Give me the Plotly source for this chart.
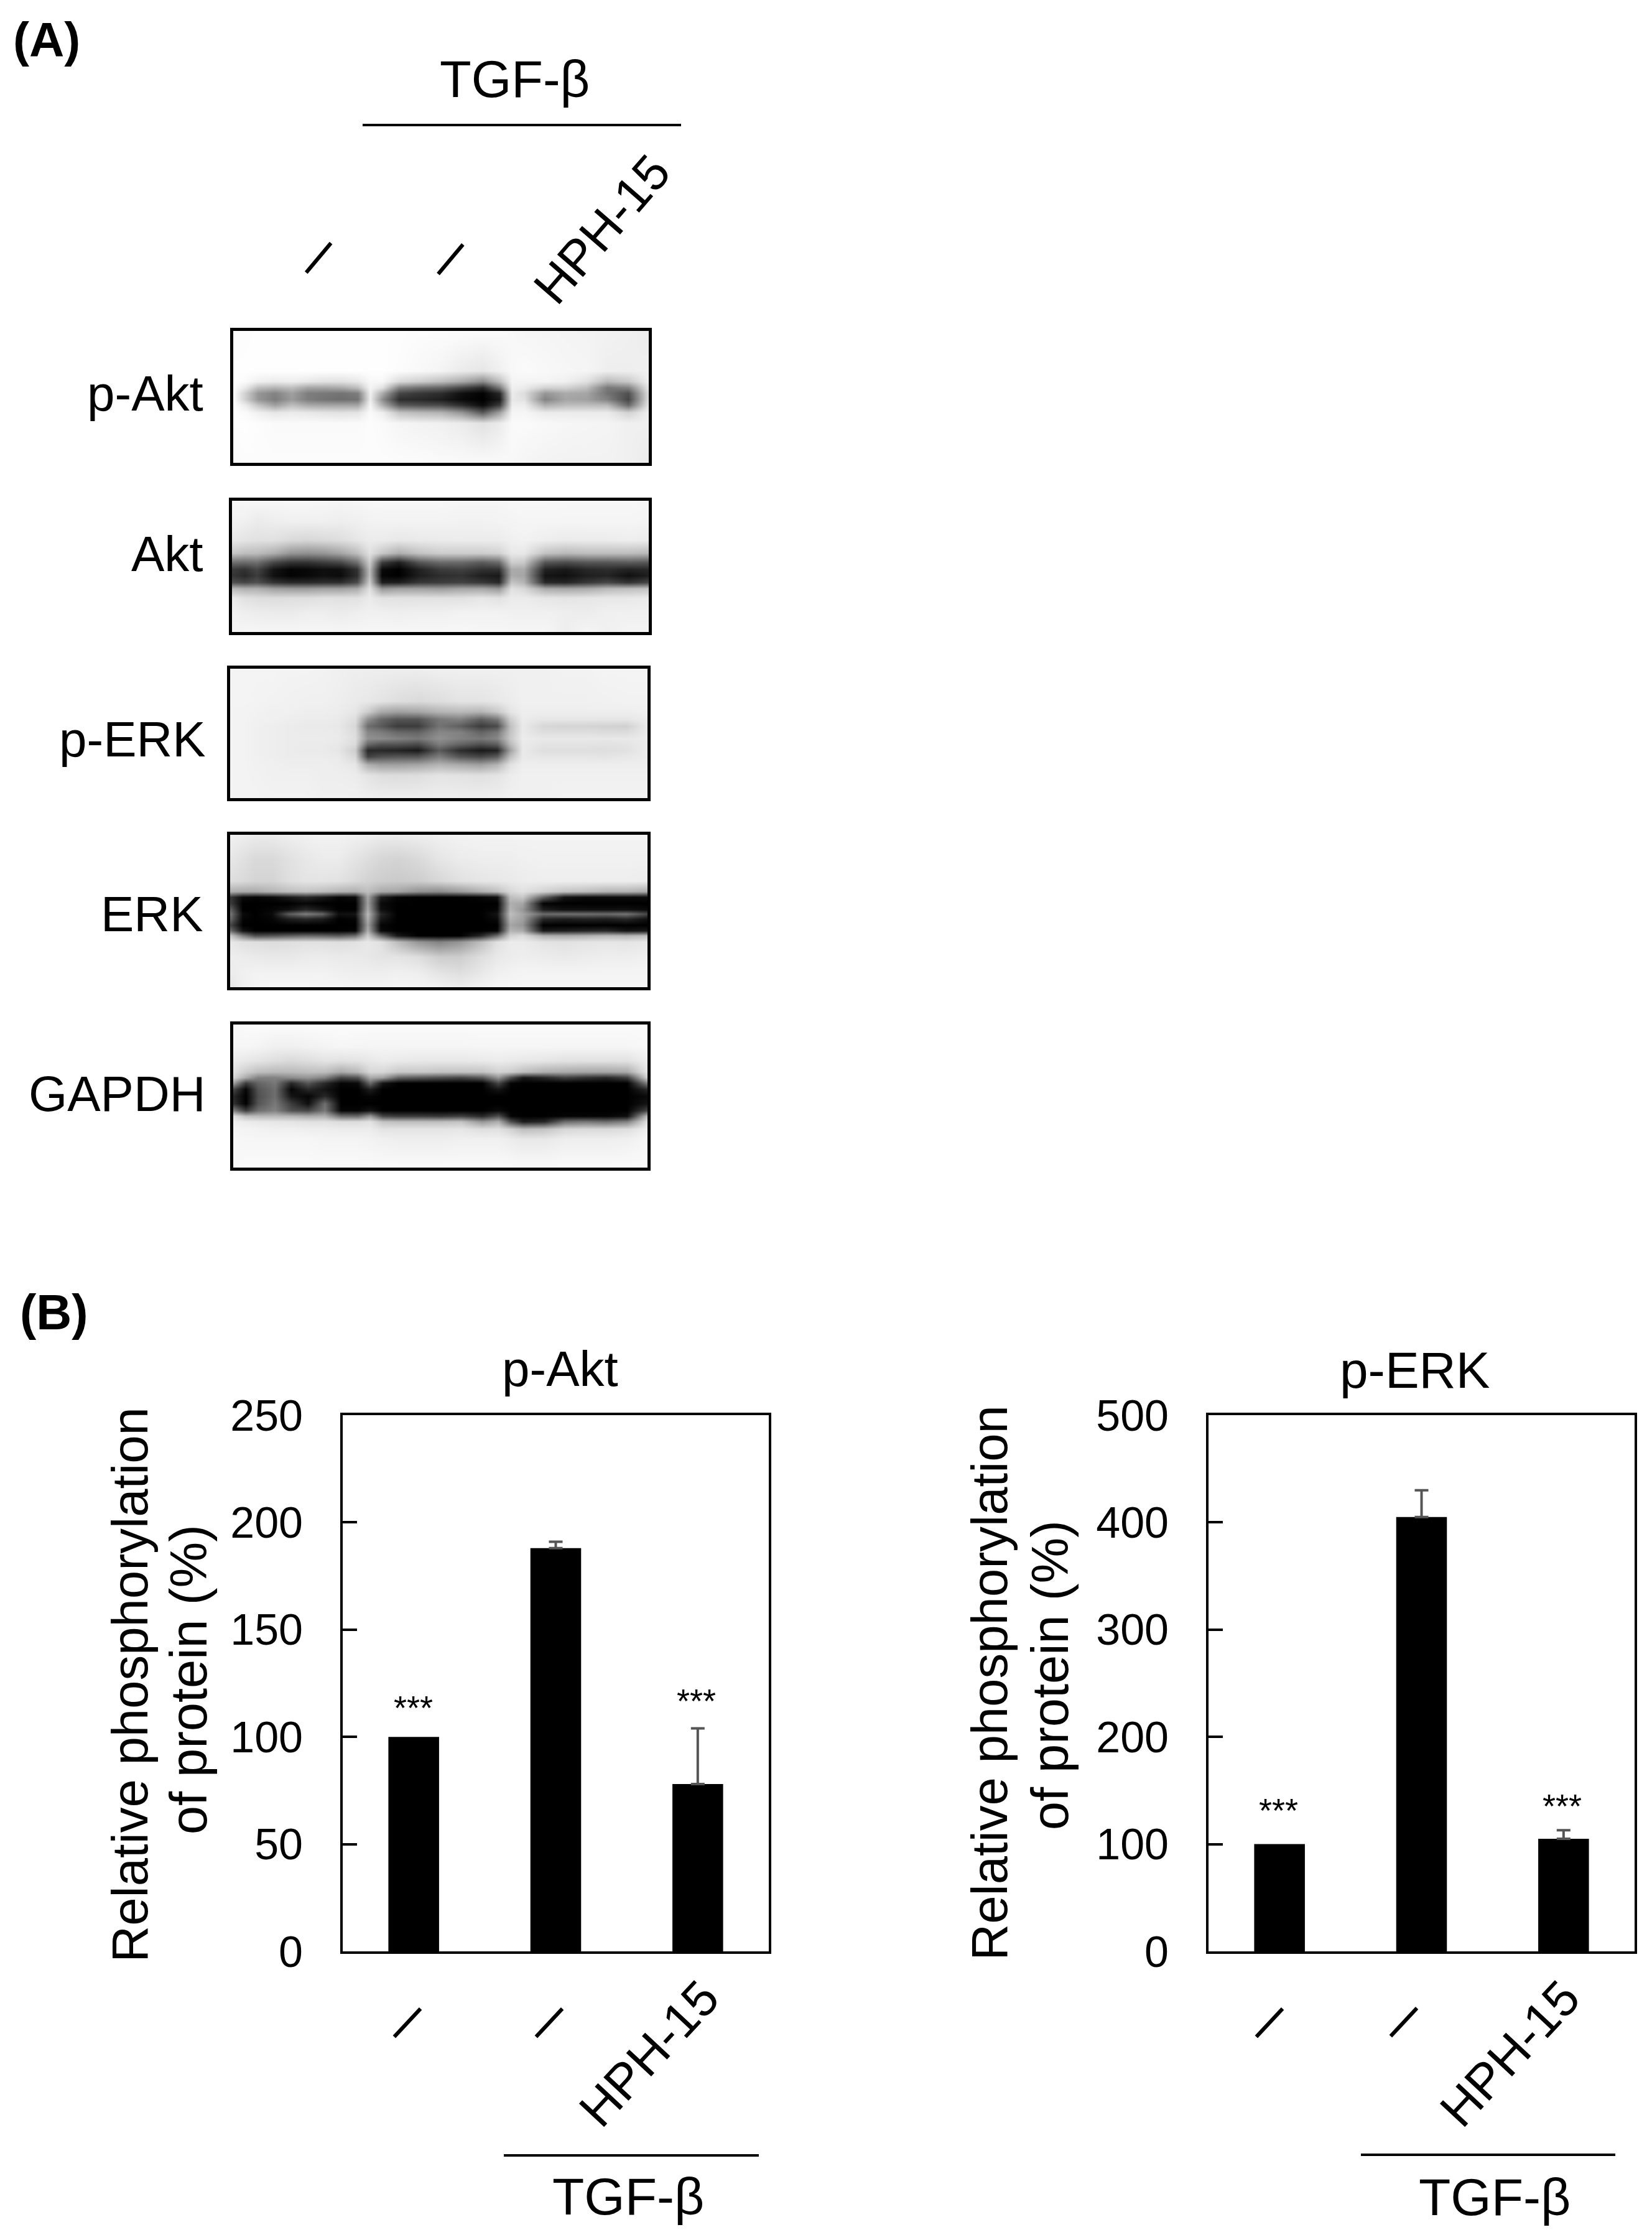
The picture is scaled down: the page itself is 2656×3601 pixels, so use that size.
import plotly.graph_objects as go

W, H = 2656, 3601
FONT = "Liberation Sans"

# ---------- bar chart data ----------
conditions = ["Control", "TGF-β", "TGF-β + HPH-15"]
x_pos = [0, 1, 2]
akt_values = [100, 188, 78]
akt_errors = [0, 3, 26]
erk_values = [100, 405, 105]
erk_errors = [0, 25, 8]
akt_ticks = [0, 50, 100, 150, 200, 250]
erk_ticks = [0, 100, 200, 300, 400, 500]

# ---------- western blot grey levels, read by eye (0 black, 255 white) ----------
blot_cols = [0, 3, 6, 10, 14, 18, 22, 26, 30, 33, 36, 40, 45, 50, 55, 60, 64, 67, 70, 75, 80, 85, 90, 95, 100]

pakt_rows = [0, 30, 38, 43, 47, 52, 56, 62, 70, 100]
pakt_grey = [
    [252, 253, 254, 254, 254, 254, 254, 254, 254, 254, 254, 253, 252, 252, 252, 251, 250, 248, 246, 245, 244, 243, 242, 240, 236],
    [254, 254, 254, 254, 254, 254, 254, 254, 254, 254, 254, 252, 248, 244, 235, 230, 240, 248, 250, 248, 246, 245, 238, 238, 240],
    [254, 250, 240, 235, 238, 232, 226, 225, 232, 248, 248, 218, 205, 190, 170, 140, 190, 244, 244, 244, 240, 225, 185, 200, 240],
    [254, 232, 190, 180, 190, 165, 165, 170, 190, 245, 225, 130, 110, 100, 70, 40, 120, 240, 235, 210, 210, 190, 120, 130, 232],
    [254, 205, 150, 130, 160, 125, 120, 115, 125, 240, 170, 70, 55, 45, 15, 2, 40, 235, 220, 150, 170, 165, 115, 80, 225],
    [254, 205, 150, 125, 155, 125, 115, 110, 115, 238, 140, 45, 40, 30, 10, 0, 25, 232, 225, 130, 165, 160, 130, 70, 225],
    [254, 235, 195, 160, 190, 170, 165, 165, 165, 245, 175, 90, 80, 75, 45, 10, 60, 238, 238, 175, 190, 190, 185, 105, 232],
    [254, 250, 240, 230, 235, 232, 228, 225, 228, 250, 238, 195, 185, 180, 150, 90, 160, 245, 246, 235, 235, 235, 235, 210, 240],
    [254, 254, 252, 250, 250, 250, 250, 250, 250, 252, 250, 245, 242, 240, 235, 225, 235, 250, 250, 248, 246, 245, 244, 240, 240],
    [250, 252, 252, 252, 252, 252, 252, 252, 252, 252, 252, 252, 252, 250, 250, 250, 250, 248, 245, 243, 242, 242, 242, 240, 235],
]

akt_rows = [0, 15, 30, 40, 47, 52, 57, 62, 67, 74, 85, 100]
akt_grey = [
    [245, 247, 247, 247, 247, 247, 246, 245, 246, 247, 247, 247, 247, 247, 246, 246, 246, 247, 248, 248, 247, 247, 247, 247, 246],
    [242, 240, 235, 238, 240, 240, 240, 238, 240, 242, 243, 243, 243, 243, 242, 242, 243, 244, 245, 245, 245, 245, 245, 245, 244],
    [232, 228, 225, 225, 218, 215, 218, 222, 230, 236, 235, 232, 234, 235, 236, 236, 236, 240, 242, 238, 235, 236, 236, 238, 236],
    [200, 190, 188, 175, 150, 145, 150, 165, 190, 225, 200, 175, 195, 205, 205, 205, 210, 232, 232, 195, 185, 190, 190, 190, 185],
    [110, 105, 110, 70, 50, 50, 60, 70, 110, 205, 60, 30, 85, 105, 105, 90, 105, 205, 200, 85, 75, 85, 85, 90, 85],
    [60, 50, 70, 20, 5, 8, 15, 15, 50, 190, 10, 0, 35, 60, 65, 50, 50, 170, 170, 35, 25, 40, 45, 35, 40],
    [55, 40, 60, 15, 3, 8, 15, 10, 45, 190, 5, 0, 30, 45, 50, 30, 25, 170, 165, 20, 15, 30, 35, 15, 30],
    [80, 70, 80, 50, 40, 40, 45, 45, 75, 205, 30, 30, 55, 60, 65, 55, 40, 195, 180, 40, 35, 55, 70, 50, 70],
    [185, 175, 175, 160, 155, 155, 160, 160, 170, 225, 150, 160, 160, 155, 165, 165, 150, 225, 215, 170, 165, 170, 185, 190, 195],
    [235, 225, 222, 220, 222, 222, 225, 225, 225, 235, 225, 225, 225, 225, 225, 230, 225, 235, 235, 230, 228, 230, 232, 232, 235],
    [242, 238, 236, 235, 235, 238, 238, 235, 238, 240, 240, 238, 240, 240, 242, 242, 242, 240, 240, 240, 238, 236, 240, 240, 240],
    [244, 246, 246, 246, 246, 246, 246, 246, 246, 247, 247, 247, 247, 247, 247, 246, 246, 246, 246, 246, 238, 245, 240, 244, 244],
]

perk_rows = [0, 25, 33, 39, 44, 49, 54, 58, 63, 68, 74, 82, 100]
perk_grey = [
    [244, 244, 244, 244, 243, 243, 242, 240, 238, 238, 238, 238, 238, 240, 240, 240, 240, 240, 240, 240, 242, 242, 244, 244, 244],
    [244, 244, 243, 242, 241, 240, 240, 238, 234, 232, 228, 222, 218, 222, 228, 228, 232, 236, 240, 240, 240, 240, 241, 242, 242],
    [243, 243, 242, 240, 240, 238, 238, 236, 230, 205, 170, 160, 165, 180, 185, 180, 200, 228, 238, 238, 238, 238, 238, 238, 240],
    [243, 243, 241, 240, 238, 236, 236, 234, 222, 145, 105, 85, 85, 120, 130, 95, 120, 205, 236, 230, 230, 230, 230, 230, 236],
    [243, 243, 240, 238, 236, 234, 234, 232, 215, 110, 90, 60, 60, 115, 95, 60, 75, 190, 234, 215, 212, 212, 210, 208, 234],
    [243, 243, 240, 238, 236, 235, 235, 233, 220, 135, 125, 105, 100, 135, 130, 100, 120, 195, 234, 222, 222, 222, 220, 220, 234],
    [243, 243, 240, 238, 236, 236, 236, 234, 222, 145, 140, 130, 120, 145, 130, 120, 135, 200, 236, 232, 232, 232, 232, 232, 236],
    [243, 243, 240, 238, 236, 235, 235, 232, 218, 105, 85, 85, 75, 125, 100, 80, 95, 185, 234, 228, 228, 228, 226, 228, 236],
    [243, 243, 240, 238, 236, 234, 234, 230, 205, 40, 40, 35, 25, 90, 45, 25, 35, 160, 234, 222, 222, 222, 222, 225, 236],
    [243, 243, 240, 238, 236, 236, 236, 234, 215, 65, 80, 85, 85, 125, 85, 70, 90, 190, 234, 230, 230, 230, 228, 232, 236],
    [243, 243, 241, 240, 238, 238, 238, 236, 230, 175, 160, 160, 165, 180, 170, 160, 180, 225, 238, 238, 238, 238, 238, 238, 238],
    [243, 243, 242, 240, 240, 240, 238, 238, 236, 228, 222, 220, 222, 228, 226, 224, 228, 236, 240, 240, 240, 240, 240, 240, 240],
    [243, 243, 243, 242, 242, 242, 240, 240, 240, 238, 238, 238, 238, 238, 238, 238, 238, 240, 240, 240, 242, 242, 242, 242, 242],
]

erk_rows = [0, 15, 30, 37, 41, 45, 49, 52, 55, 59, 63, 66, 70, 80, 90, 100]
erk_grey = [
    [240, 238, 235, 235, 238, 240, 242, 242, 240, 238, 236, 236, 238, 240, 242, 243, 243, 243, 243, 243, 243, 243, 243, 243, 243],
    [232, 225, 218, 218, 225, 232, 236, 236, 228, 222, 215, 212, 218, 230, 236, 238, 238, 238, 240, 241, 241, 241, 241, 241, 241],
    [222, 218, 212, 212, 222, 228, 228, 226, 218, 210, 205, 202, 205, 215, 225, 230, 232, 234, 236, 238, 238, 238, 238, 238, 236],
    [175, 170, 170, 180, 190, 195, 190, 180, 175, 190, 170, 165, 145, 140, 155, 175, 190, 215, 225, 210, 195, 190, 180, 180, 170],
    [55, 10, 5, 10, 25, 40, 25, 5, 10, 165, 30, 5, 0, 0, 0, 5, 15, 190, 200, 100, 20, 10, 10, 10, 10],
    [60, 0, 0, 0, 0, 8, 0, 0, 0, 160, 10, 0, 0, 0, 0, 0, 0, 175, 165, 5, 0, 0, 0, 0, 0],
    [100, 0, 0, 5, 15, 40, 20, 0, 0, 170, 15, 0, 0, 0, 0, 0, 5, 180, 150, 30, 15, 15, 15, 15, 10],
    [120, 10, 0, 10, 90, 125, 100, 15, 20, 185, 40, 0, 0, 0, 0, 0, 20, 190, 165, 105, 110, 110, 105, 115, 70],
    [105, 5, 0, 5, 30, 40, 30, 0, 5, 175, 25, 0, 0, 0, 0, 0, 10, 180, 160, 40, 30, 35, 30, 40, 15],
    [70, 0, 0, 0, 0, 0, 0, 0, 0, 160, 5, 0, 0, 0, 0, 0, 0, 165, 150, 0, 0, 0, 0, 0, 0],
    [110, 20, 0, 0, 0, 0, 0, 0, 5, 175, 10, 0, 0, 0, 0, 0, 5, 180, 170, 25, 30, 35, 40, 20, 25],
    [200, 130, 80, 85, 95, 105, 100, 90, 110, 205, 110, 25, 0, 0, 0, 40, 110, 210, 220, 175, 170, 175, 185, 180, 190],
    [232, 225, 222, 220, 222, 225, 225, 222, 225, 232, 225, 190, 150, 130, 150, 190, 225, 235, 235, 228, 225, 228, 230, 228, 232],
    [238, 236, 234, 232, 232, 235, 236, 234, 234, 232, 228, 228, 222, 205, 205, 222, 232, 236, 238, 236, 234, 236, 238, 238, 240],
    [236, 240, 242, 242, 242, 242, 242, 240, 238, 238, 238, 240, 238, 228, 222, 232, 240, 242, 244, 244, 244, 244, 244, 244, 244],
    [230, 240, 245, 246, 246, 246, 245, 245, 244, 244, 244, 245, 245, 242, 238, 242, 246, 246, 246, 246, 246, 246, 246, 246, 246],
]

gapdh_rows = [0, 15, 25, 33, 37, 41, 45, 50, 55, 60, 64, 68, 73, 80, 100]
gapdh_grey = [
    [248, 250, 251, 251, 251, 251, 251, 251, 251, 250, 250, 250, 250, 250, 250, 250, 250, 250, 250, 250, 250, 250, 250, 250, 250],
    [246, 246, 244, 240, 240, 242, 244, 246, 245, 245, 245, 245, 245, 245, 245, 246, 246, 246, 246, 246, 246, 246, 246, 246, 248],
    [236, 232, 228, 222, 218, 222, 228, 226, 228, 232, 236, 234, 232, 232, 232, 234, 236, 234, 232, 230, 226, 226, 226, 226, 238],
    [225, 205, 190, 185, 185, 190, 190, 170, 185, 215, 215, 200, 200, 195, 195, 195, 210, 205, 190, 175, 170, 165, 165, 170, 232],
    [215, 170, 130, 130, 140, 150, 130, 70, 85, 170, 160, 100, 90, 80, 70, 90, 150, 80, 25, 40, 65, 50, 40, 65, 215],
    [160, 60, 100, 120, 40, 85, 40, 5, 10, 105, 20, 0, 0, 0, 0, 0, 70, 5, 0, 0, 0, 0, 0, 0, 130],
    [70, 5, 85, 110, 5, 40, 20, 0, 0, 30, 0, 0, 0, 0, 0, 0, 20, 0, 0, 0, 0, 0, 0, 0, 40],
    [40, 0, 80, 110, 20, 5, 40, 0, 0, 5, 0, 0, 0, 0, 0, 0, 0, 0, 0, 0, 0, 0, 0, 0, 10],
    [50, 0, 85, 120, 60, 15, 110, 0, 0, 0, 0, 0, 0, 0, 0, 0, 0, 0, 0, 0, 0, 0, 0, 0, 20],
    [130, 60, 110, 130, 80, 70, 120, 5, 5, 20, 0, 0, 0, 0, 0, 0, 10, 0, 0, 0, 0, 0, 0, 0, 70],
    [225, 190, 185, 185, 180, 170, 175, 110, 105, 150, 70, 60, 60, 55, 65, 40, 80, 5, 0, 0, 5, 5, 5, 15, 190],
    [240, 235, 232, 230, 228, 225, 225, 220, 220, 225, 195, 190, 190, 190, 195, 150, 175, 80, 30, 40, 110, 120, 110, 130, 228],
    [245, 244, 242, 240, 240, 238, 238, 236, 236, 236, 228, 228, 228, 228, 230, 222, 225, 210, 190, 195, 215, 218, 218, 222, 240],
    [248, 246, 246, 246, 246, 246, 244, 244, 244, 242, 240, 238, 238, 238, 240, 240, 240, 236, 232, 232, 238, 238, 238, 240, 246],
    [248, 250, 250, 250, 250, 250, 250, 250, 250, 250, 250, 250, 250, 250, 250, 250, 250, 250, 250, 250, 250, 250, 250, 250, 250],
]

blots = [
    ("p-Akt", pakt_rows, pakt_grey, (375, 532, 1043, 744), 328, 660),
    ("Akt", akt_rows, akt_grey, (373, 805, 1043, 1016), 328, 918),
    ("p-ERK", perk_rows, perk_grey, (370, 1075, 1041, 1283), 332, 1216),
    ("ERK", erk_rows, erk_grey, (370, 1342, 1041, 1587), 328, 1497),
    ("GAPDH", gapdh_rows, gapdh_grey, (375, 1647, 1041, 1877), 332, 1786),
]

fig = go.Figure()
annotations = []
shapes = []


def fx(px):
    return px / W


def fy(py):
    return 1 - py / H


def text_at(txt, x, baseline, size, anchor="center", bold=False):
    """Horizontal text placed by its baseline, in page pixels."""
    annotations.append(dict(
        text=f"<b>{txt}</b>" if bold else txt, x=fx(x), y=fy(baseline - 0.346 * size),
        xref="paper", yref="paper", xanchor=anchor, yanchor="middle", showarrow=False,
        borderpad=0, font=dict(family=FONT, size=size, color="black")))


def rotated(txt, cx, cy, size, angle):
    annotations.append(dict(
        text=txt, x=fx(cx), y=fy(cy), xref="paper", yref="paper", xanchor="center",
        yanchor="middle", showarrow=False, borderpad=0, textangle=angle,
        font=dict(family=FONT, size=size, color="black")))


def rule(x0, x1, y, width=4):
    shapes.append(dict(type="line", xref="paper", yref="paper", x0=fx(x0), x1=fx(x1),
                       y0=fy(y), y1=fy(y), line=dict(color="black", width=width)))


layout_axes = {}


def bar_panel(idx, values, errors, ticks, ymax, box, title, title_xy, title_size, bar_color="black"):
    xa, ya = ("x", "y") if idx == 1 else (f"x{idx}", f"y{idx}")
    fig.add_trace(go.Bar(x=x_pos, y=values, width=0.357, marker=dict(color=bar_color, line=dict(width=0)),
                         xaxis=xa, yaxis=ya, showlegend=False, name=title, customdata=conditions))
    err_x = [p for p, e in zip(x_pos, errors) if e > 0]
    err_y = [v for v, e in zip(values, errors) if e > 0]
    err_e = [e for e in errors if e > 0]
    fig.add_trace(go.Scatter(x=err_x, y=err_y, mode="markers", marker=dict(size=1, opacity=0),
                             error_y=dict(type="data", symmetric=False, array=err_e,
                                          arrayminus=[0] * len(err_e), color="#555555", thickness=4, width=11),
                             xaxis=xa, yaxis=ya, showlegend=False, name=title))
    x0, y0, x1, y1 = box
    suffix = "" if idx == 1 else str(idx)
    layout_axes[f"xaxis{suffix}"] = dict(
        domain=[fx(x0), fx(x1)], range=[-0.5, 2.5], anchor=ya, showline=True, mirror=True,
        linecolor="black", linewidth=4, showgrid=False, zeroline=False, showticklabels=False, ticks="")
    layout_axes[f"yaxis{suffix}"] = dict(
        domain=[fy(y1), fy(y0)], range=[0, ymax], anchor=xa, showline=True, mirror=True,
        linecolor="black", linewidth=4, showgrid=False, zeroline=False, ticks="inside", ticklen=23,
        tickwidth=4, tickcolor="black", tickvals=ticks, ticklabelstandoff=46,
        tickfont=dict(family=FONT, size=70, color="black"))
    text_at(title, title_xy[0], title_xy[1], title_size)


bar_panel(1, akt_values, akt_errors, akt_ticks, 250, (551, 2275, 1236, 3137), "p-Akt", (900, 2228), 80)
bar_panel(2, erk_values, erk_errors, erk_ticks, 500, (1943, 2275, 2628, 3137), "p-ERK", (2275, 2231), 82)

# blots as smoothed heatmaps
for n, (name, rows, grey, box, lx, lb) in enumerate(blots, start=3):
    fig.add_trace(go.Heatmap(z=grey, x=blot_cols, y=rows, zmin=0, zmax=255, zsmooth="best",
                             colorscale=[[0, "black"], [1, "white"]], showscale=False,
                             xaxis=f"x{n}", yaxis=f"y{n}", name=name))
    x0, y0, x1, y1 = box
    layout_axes[f"xaxis{n}"] = dict(domain=[fx(x0), fx(x1)], range=[0, 100], anchor=f"y{n}", showline=True,
                                    mirror=True, linecolor="black", linewidth=5, showgrid=False,
                                    zeroline=False, showticklabels=False, ticks="")
    layout_axes[f"yaxis{n}"] = dict(domain=[fy(y1), fy(y0)], range=[100, 0], anchor=f"x{n}", showline=True,
                                    mirror=True, linecolor="black", linewidth=5, showgrid=False,
                                    zeroline=False, showticklabels=False, ticks="")
    text_at(name, lx, lb, 80, anchor="right")

DASH = "<b>—</b>"

# panel letters
text_at("(A)", 20, 91, 78, anchor="left", bold=True)
text_at("(B)", 31, 2137, 79, anchor="left", bold=True)

# blot header
text_at("TGF-β", 827, 156, 83)
rule(583, 1095, 201)
rotated(DASH, 508, 411, 62, -50)
rotated(DASH, 721, 414, 62, -50)
rotated("HPH-15", 968, 369, 80, -49)

# left panel labels
rotated("Relative phosphorylation", 236 - 0.346 * 82, 2708, 81.5, -90)
rotated("of protein (%)", 332 - 0.346 * 83, 2700, 83, -90)
rotated(DASH, 651, 3248, 62, -47)
rotated(DASH, 879, 3248, 62, -47)
rotated("HPH-15", 1043, 3301, 80, -47)
rule(810, 1220, 3465)
text_at("TGF-β", 1010, 3560, 84)
rotated("***", 664, 2745, 54, 0)
rotated("***", 1119, 2734, 54, 0)

# right panel labels
rotated("Relative phosphorylation", 1618 - 0.346 * 82, 2705, 81.5, -90)
rotated("of protein (%)", 1717 - 0.346 * 83, 2693, 83, -90)
rotated(DASH, 2037, 3248, 62, -47)
rotated(DASH, 2253, 3247, 62, -47)
rotated("HPH-15", 2427, 3301, 80, -47)
rule(2188, 2597, 3464)
text_at("TGF-β", 2403, 3561, 84)
rotated("***", 2055, 2910, 54, 0)
rotated("***", 2511, 2903, 54, 0)

fig.update_layout(width=W, height=H, margin=dict(l=0, r=0, t=0, b=0, pad=0, autoexpand=False),
                  paper_bgcolor="white", plot_bgcolor="white", showlegend=False,
                  annotations=annotations, shapes=shapes,
                  font=dict(family=FONT, color="black"), **layout_axes)

fig.write_html("out.html", config={"displayModeBar": False},
               post_script="document.body.style.margin='0';")
